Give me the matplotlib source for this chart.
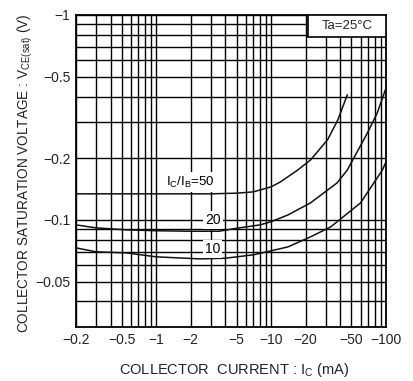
import matplotlib
matplotlib.use('Agg')
import matplotlib.pyplot as plt
from matplotlib.patches import Rectangle

plt.rcParams['font.family'] = ['Liberation Sans', 'DejaVu Sans']
plt.rcParams['mathtext.fontset'] = 'custom'
plt.rcParams['mathtext.rm'] = 'Liberation Sans'
plt.rcParams['mathtext.it'] = 'Liberation Sans'

# collector current (mA, magnitude) / saturation voltage (V, magnitude)
ic_50 = [0.2, 1, 3, 5, 7, 10, 12, 17, 22, 31, 38, 46]
vce_50 = [0.134, 0.134, 0.134, 0.135, 0.137, 0.145, 0.153, 0.175, 0.196, 0.246, 0.307, 0.407]

ic_20 = [0.2, 0.3, 0.55, 1, 2, 3.5, 5, 8, 10, 14, 22, 37.5, 46, 69, 84, 100]
vce_20 = [0.0945, 0.0914, 0.0894, 0.0885, 0.088, 0.088, 0.091, 0.0945, 0.098, 0.1057,
          0.121, 0.1515, 0.175, 0.266, 0.333, 0.44]

ic_10 = [0.2, 0.3, 0.55, 1, 2.4, 4, 7, 14, 22, 33, 60, 93, 100]
vce_10 = [0.073, 0.0698, 0.069, 0.066, 0.0645, 0.065, 0.0675, 0.0738, 0.0826, 0.0924,
          0.121, 0.175, 0.192]

x_ticks = [0.2, 0.5, 1, 2, 5, 10, 20, 50, 100]
x_labels = ['\u22120.2', '\u22120.5', '\u22121', '\u22122', '\u22125', '\u221210',
            '\u221220', '\u221250', '\u2212100']
y_ticks = [0.05, 0.1, 0.2, 0.5, 1]
y_labels = ['\u22120.05', '\u22120.1', '\u22120.2', '\u22120.5', '\u22121']

x_minor = [0.3, 0.4, 0.6, 0.7, 0.8, 0.9, 3, 4, 6, 7, 8, 9, 30, 40, 60, 70, 80, 90]
y_minor = [0.04, 0.06, 0.07, 0.08, 0.09, 0.3, 0.4, 0.6, 0.7, 0.8, 0.9]

fig = plt.figure(figsize=(4.14, 3.81), dpi=100)
ax = fig.add_axes([76 / 414, 1 - 327 / 381, 310 / 414, 312 / 381])
ax.set_xscale('log')
ax.set_yscale('log')
ax.set_xlim(0.2, 100)
ax.set_ylim(0.03, 1)

ax.set_xticks(x_ticks)
ax.set_xticklabels(x_labels)
ax.set_xticks(x_minor, minor=True)
ax.set_xticklabels([], minor=True)
ax.set_yticks(y_ticks)
ax.set_yticklabels(y_labels)
ax.set_yticks(y_minor, minor=True)
ax.set_yticklabels([], minor=True)
ax.tick_params(which='both', length=0, labelsize=10, pad=4, colors='#222222')
ax.grid(which='both', color='black', linewidth=1.0)
ax.set_axisbelow(True)
for s in ax.spines.values():
    s.set_linewidth(1.3)

ax.plot(ic_50, vce_50, color='#111111', lw=1.1, zorder=3)
ax.plot(ic_20, vce_20, color='#111111', lw=1.1, zorder=3)
ax.plot(ic_10, vce_10, color='#111111', lw=1.1, zorder=3)

box = dict(facecolor='white', edgecolor='none', pad=1.5)
ax.text(1.97, 0.153, r'I$_{\mathrm{C}}$/I$_{\mathrm{B}}$=50', fontsize=9.5,
        ha='center', va='center', bbox=box, zorder=4)
ax.text(3.1, 0.1, '20', fontsize=10, ha='center', va='center', bbox=box, zorder=4)
ax.text(3.1, 0.0722, '10', fontsize=10, ha='center', va='center', bbox=box, zorder=4)

ax.add_patch(Rectangle((0.748, 0.9295), 0.252, 0.0705, transform=ax.transAxes,
                       facecolor='white', edgecolor='black', lw=1.2, zorder=4))
ax.text(0.874, 0.965, 'Ta=25\u00b0C', transform=ax.transAxes, fontsize=9.5,
        ha='center', va='center', zorder=5, color='#222222')

fig.text(234 / 414, 1 - 370 / 381, r'COLLECTOR  CURRENT : I$_{\mathrm{C}}$ (mA)',
         fontsize=10.5, ha='center', va='center', color='#222222')
fig.text(25 / 414, 1 - 173 / 381,
         r'COLLECTOR SATURATION VOLTAGE : V$_{\mathrm{CE(sat)}}$ (V)',
         fontsize=9.8, ha='center', va='center', rotation=90, color='#222222')

fig.savefig('out.png', dpi=100)
